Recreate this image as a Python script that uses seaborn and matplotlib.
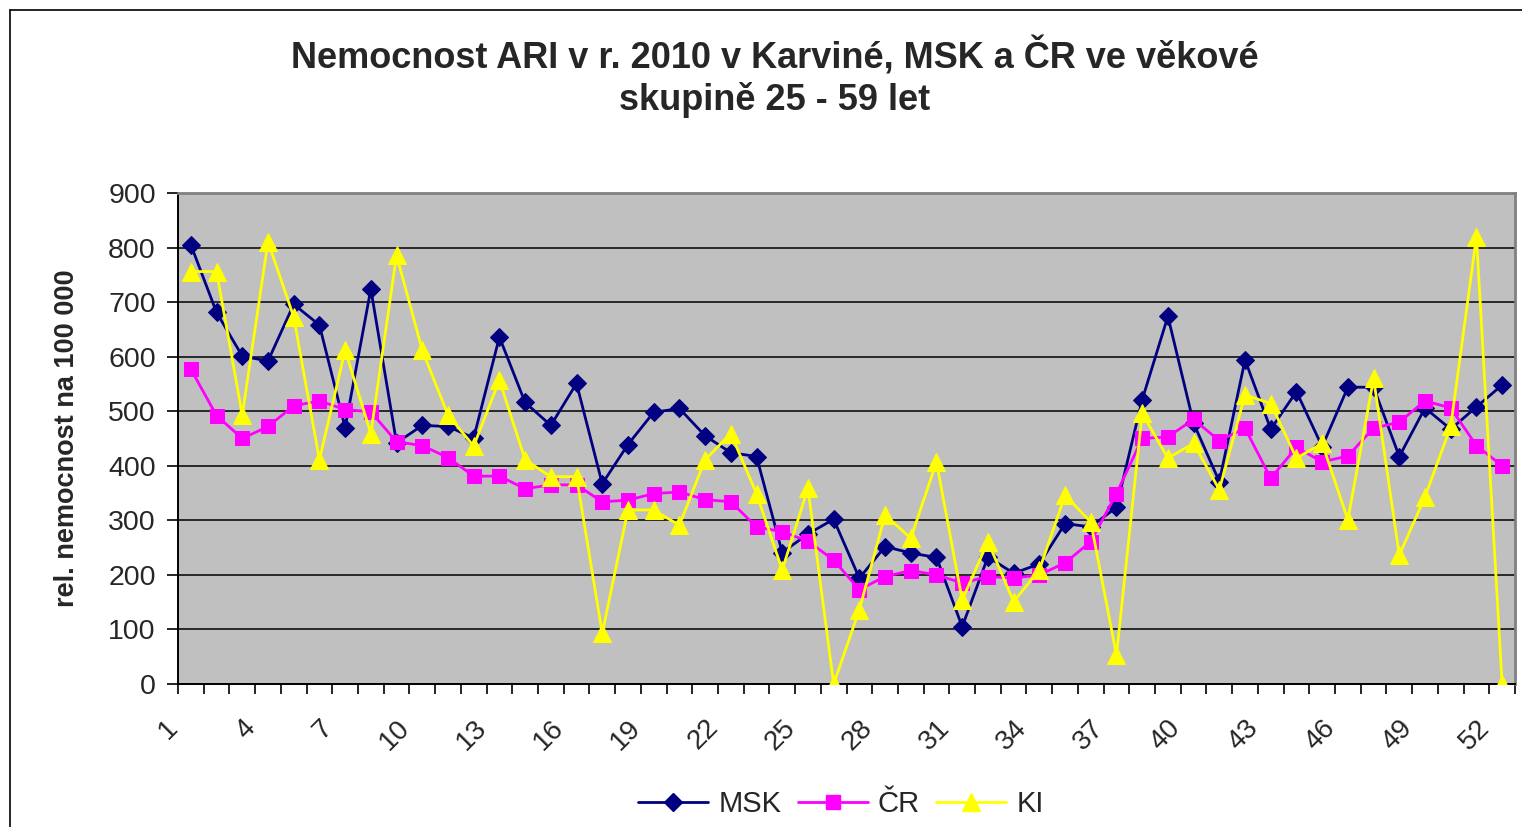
import numpy as np
import pandas as pd
import matplotlib
matplotlib.use("Agg")
import matplotlib.pyplot as plt
import matplotlib.transforms as mtransforms
from matplotlib.lines import Line2D
import seaborn as sns

# Calendar weeks of 2010
weeks = list(range(1, 53))

# Rates per 100 000 inhabitants, age group 25-59
msk = [805, 681, 601, 592, 696, 658, 470, 724, 442, 474,
       472, 451, 636, 516, 474, 551, 367, 439, 498, 505,
       455, 424, 417, 241, 275, 302, 194, 252, 240, 232,
       105, 233, 203, 220, 294, 288, 324, 521, 674, 478,
       371, 594, 467, 536, 435, 544, 544, 417, 506, 467,
       508, 548]
cr = [577, 492, 450, 472, 510, 519, 503, 499, 444, 437,
      415, 381, 381, 358, 365, 365, 334, 337, 349, 352,
      338, 334, 288, 279, 262, 227, 173, 197, 208, 200,
      185, 197, 194, 200, 222, 261, 349, 450, 453, 485,
      446, 469, 377, 434, 407, 418, 469, 480, 519, 506,
      437, 400]
ki = [756, 756, 493, 811, 673, 411, 612, 459, 786, 612,
      493, 436, 557, 411, 380, 380, 93, 319, 319, 291,
      411, 459, 349, 209, 359, 0, 136, 310, 267, 407,
      154, 261, 151, 209, 346, 297, 53, 496, 414, 441,
      356, 530, 514, 414, 441, 301, 560, 236, 343, 472,
      820, 0]

series_names = ["MSK", "ČR", "KI"]
series_colors = ["#000080", "#FF00FF", "#FFFF00"]
series_markers = ["D", "s", "^"]
marker_sizes = [9, 9.5, 12.5]

df = pd.DataFrame({
    "week": weeks * 3,
    "value": msk + cr + ki,
    "series": ["MSK"] * 52 + ["ČR"] * 52 + ["KI"] * 52,
})

sns.set_theme(style="white")
plt.rcParams["font.family"] = ["Liberation Sans", "DejaVu Sans"]

W, H = 1522, 827
fig = plt.figure(figsize=(W / 100, H / 100), dpi=100)
ax = fig.add_axes([178 / W, 1 - 684 / H, (1515 - 178) / W, (684 - 193) / H])
ax.set_facecolor("#C0C0C0")

for name, col, mk, ms in zip(series_names, series_colors, series_markers, marker_sizes):
    sub = df[df["series"] == name]
    sns.lineplot(data=sub, x="week", y="value", ax=ax, color=col,
                 marker=mk, markersize=ms, markeredgecolor=col,
                 linewidth=2.0, label=name, legend=False, zorder=3)

ax.set_xlim(0.5, 52.5)
ax.set_ylim(0, 900)
ax.set_yticks(np.arange(0, 901, 100))
ax.yaxis.grid(True, color="black", linewidth=1.1, zorder=1)
ax.xaxis.grid(False)
ax.set_axisbelow(True)

# category labels every third week, tick marks on category boundaries
label_weeks = weeks[::3]
ax.set_xticks(label_weeks)
ax.set_xticks(np.arange(0.5, 53, 1), minor=True)
ax.tick_params(axis="x", which="major", length=0, pad=22)
ax.tick_params(axis="x", which="minor", length=7, width=1.2, color="black",
               direction="out", bottom=True)
ax.tick_params(axis="y", length=8, width=1.2, color="black", direction="out",
               left=True, labelsize=20.5, pad=8)
ax.set_xticklabels([str(w) for w in label_weeks], rotation=45,
                   ha="right", va="top", rotation_mode="anchor", fontsize=20)
shift = mtransforms.ScaledTranslation(-26 / 100, 0, fig.dpi_scale_trans)
for tick in ax.xaxis.get_major_ticks():
    tick.label1.set_transform(tick.label1.get_transform() + shift)

for side in ("left", "bottom"):
    ax.spines[side].set_color("black")
    ax.spines[side].set_linewidth(1.4)
for side in ("top", "right"):
    ax.spines[side].set_color("#808080")
    ax.spines[side].set_linewidth(2.0)

ax.set_xlabel("")
ax.set_ylabel("rel. nemocnost na 100 000", fontsize=19.5, fontweight="bold",
              labelpad=20)

fig.text(775 / W, 1 - 57 / H, "Nemocnost ARI v r. 2010 v Karviné, MSK a ČR ve věkové",
         ha="center", va="center", fontsize=26, fontweight="bold")
fig.text(775 / W, 1 - 100 / H, "skupině 25 - 59 let",
         ha="center", va="center", fontsize=26, fontweight="bold")

handles = [Line2D([], [], color=c, marker=m, markersize=s, linewidth=2.0)
           for c, m, s in zip(series_colors, series_markers, marker_sizes)]
fig.legend(handles, series_names, loc="center", bbox_to_anchor=(841 / W, 1 - 804 / H),
           ncol=3, frameon=False, fontsize=21, handlelength=2.4,
           handletextpad=0.35, columnspacing=0.55)

# chart frame
fig.add_artist(Line2D([10 / W, 10 / W], [0, 1 - 10 / H], color="black",
                      linewidth=1.2, transform=fig.transFigure))
fig.add_artist(Line2D([10 / W, 1], [1 - 10 / H, 1 - 10 / H], color="black",
                      linewidth=1.2, transform=fig.transFigure))

fig.savefig("out.png", dpi=100, facecolor="white")
